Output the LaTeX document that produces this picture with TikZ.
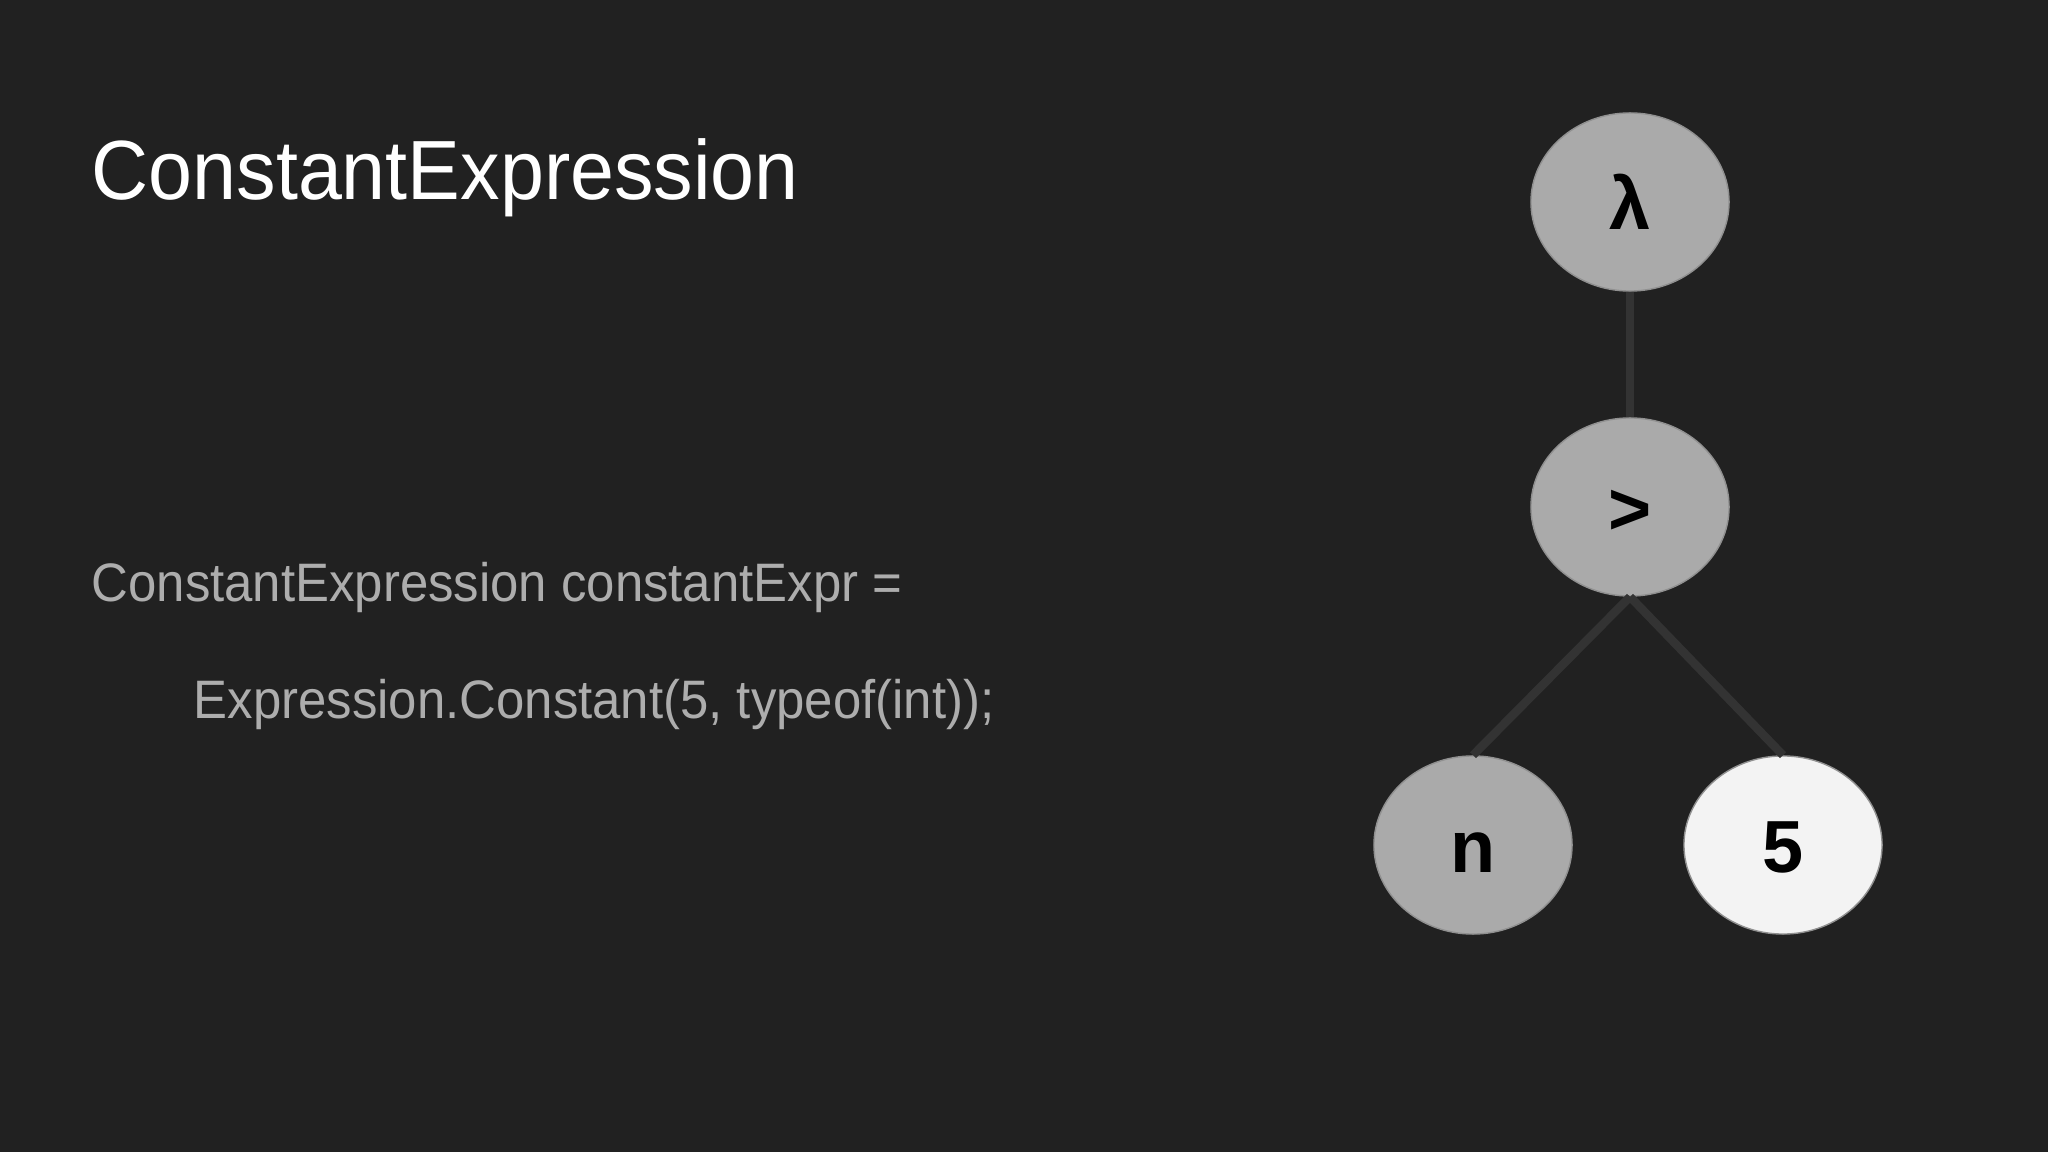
\documentclass[tikz,border=0pt]{standalone}
\usepackage{fontspec}
\setmainfont[FakeStretch=0.94]{Liberation Sans}
\newfontfamily\labelfont{Liberation Sans}
\usetikzlibrary{shapes.geometric}
\definecolor{slidebg}{HTML}{212121}
\definecolor{nodegray}{HTML}{AAAAAA}
\definecolor{nodewhite}{HTML}{F3F3F3}
\definecolor{codegray}{HTML}{ADADAD}
\definecolor{edgegray}{HTML}{333333}
\begin{document}
\begin{tikzpicture}[x=0.01cm,y=-0.01cm,
  tree/.style={ellipse,draw=nodegray!85!black,line width=0.4pt,fill=nodegray,
    minimum width=1.98cm,minimum height=1.78cm,inner sep=0pt,
    text height=0.54cm,text depth=0pt,
    font=\labelfont\fontsize{21}{24}\selectfont\bfseries,text=black},
  edge/.style={draw=edgegray,line width=2.4pt}]
\fill[color=slidebg] (0,0) rectangle (2048,1152);

\node[anchor=base west,inner sep=0pt,text=white,font=\fontsize{23.9}{28}\selectfont] (title) at (91,200) {ConstantExpression};
\node[anchor=base west,inner sep=0pt,text=codegray,font=\fontsize{15.4}{19}\selectfont] (line1) at (91,602) {ConstantExpression constantExpr =};
\node[anchor=base west,inner sep=0pt,text=codegray,font=\fontsize{15.4}{19}\selectfont] (line2) at (193,718) {Expression.Constant(5, typeof(int));};

\node[tree] (lam) at (1630,202) {λ};
\node[tree] (gt) at (1630,507) {>};
\node[tree] (n) at (1473,845) {n};
\node[tree,fill=nodewhite] (five) at (1783,845) {5};

\draw[edge] (lam.south) -- (gt.north);
\draw[edge] (gt.south) -- (n.north);
\draw[edge] (gt.south) -- (five.north);
\end{tikzpicture}
\end{document}
